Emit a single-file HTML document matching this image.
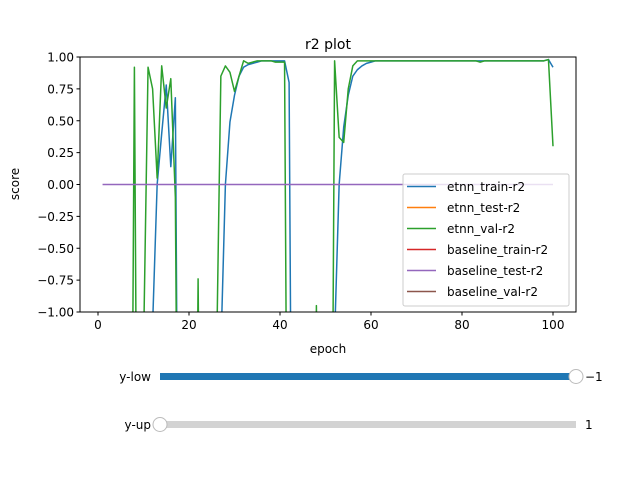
<!DOCTYPE html>
<html><head><meta charset="utf-8"><style>
html,body{margin:0;padding:0;background:#fff;overflow:hidden;width:640px;height:480px;}
svg{display:block;}
svg text{font-family:"DejaVu Sans","Liberation Sans",sans-serif;}
</style></head><body>
<svg id="c" width="640" height="480" viewBox="0 0 640 480"></svg>
<script>
const epochs=[];for(let i=1;i<=100;i++)epochs.push(i);
const trainR2=[-9,-9,-9,-9,-9,-9,-9,-9,-9,-9,-9,-1.1,0.0,0.4,0.78,0.14,0.68,-9,-9,-9,-9,-9,-9,-9,-9,-9,-1.3,0.0,0.49,0.7,0.85,0.92,0.94,0.95,0.96,0.97,0.97,0.97,0.97,0.97,0.97,0.8,-9,-9,-9,-9,-9,-9,-9,-9,-9,-1.2,0.0,0.45,0.7,0.85,0.9,0.93,0.95,0.96,0.97,0.97,0.97,0.97,0.97,0.97,0.97,0.97,0.97,0.97,0.97,0.97,0.97,0.97,0.97,0.97,0.97,0.97,0.97,0.97,0.97,0.97,0.97,0.97,0.97,0.97,0.97,0.97,0.97,0.97,0.97,0.97,0.97,0.97,0.97,0.97,0.97,0.97,0.98,0.92];
const valR2=[-9,-9,-9,-9,-9,-9,-9,0.92,-9,-1.3,0.92,0.75,0.05,0.93,0.6,0.83,-0.1,-9,-9,-9,-9,-0.74,-9,-9,-9,-1.5,0.85,0.93,0.88,0.73,0.85,0.97,0.95,0.96,0.97,0.97,0.97,0.97,0.96,0.96,0.96,-9,-9,-9,-9,-9,-9,-0.95,-9,-9,-9,0.97,0.37,0.33,0.75,0.93,0.97,0.97,0.97,0.97,0.97,0.97,0.97,0.97,0.97,0.97,0.97,0.97,0.97,0.97,0.97,0.97,0.97,0.97,0.97,0.97,0.97,0.97,0.97,0.97,0.97,0.97,0.97,0.96,0.97,0.97,0.97,0.97,0.97,0.97,0.97,0.97,0.97,0.97,0.97,0.97,0.97,0.97,0.98,0.3];
const baseTestR2=epochs.map(()=>0);
const xTicks=[0,20,40,60,80,100];
const yTicks=[-1,-0.75,-0.5,-0.25,0,0.25,0.5,0.75,1];
const yTickLabels=["−1.00","−0.75","−0.50","−0.25","0.00","0.25","0.50","0.75","1.00"];
const legendLabels=["etnn_train-r2","etnn_test-r2","etnn_val-r2","baseline_train-r2","baseline_test-r2","baseline_val-r2"];
const legendColors=["#1f77b4","#ff7f0e","#2ca02c","#d62728","#9467bd","#8c564b"];

const L=80,R=576,T=57,B=312;
const xs=v=>98+v*4.55;
const ys=v=>T+(1-v)/2*(B-T);
const svg=document.getElementById('c');const NS="http://www.w3.org/2000/svg";
function el(t,a,p){const e=document.createElementNS(NS,t);for(const k in a)e.setAttribute(k,a[k]);(p||svg).appendChild(e);return e;}
function txt(s,a,p){const e=el('text',a,p);e.textContent=s;return e;}
const defs=el('defs',{});const cp=el('clipPath',{id:'clip'},defs);el('rect',{x:L,y:T,width:R-L,height:B-T},cp);
const plot=el('g',{'clip-path':'url(#clip)'});


function line(data,color,name){const d=data.map((v,i)=>(i?'L':'M')+xs(epochs[i]).toFixed(2)+','+ys(Math.max(v,-5)).toFixed(2)).join('');
const p=el('path',{d:d,fill:'none',stroke:color,'stroke-width':1.5,'stroke-linejoin':'round'},plot);

}
line(trainR2,'#1f77b4','etnn-train-line');
line(valR2,'#2ca02c','etnn-val-line');
line(baseTestR2,'#9467bd','baseline-test-line');
const frame=el('rect',{x:L,y:T,width:R-L,height:B-T,fill:'none',stroke:'#000','stroke-width':1});


xTicks.forEach(v=>{const x=xs(v);el('line',{x1:x,x2:x,y1:B,y2:B+3.5,stroke:'#000'});
const t=txt(String(v),{x:x,y:B+17,'font-size':12,'text-anchor':'middle'});

});
yTicks.forEach((v,i)=>{const y=ys(v);el('line',{x1:L-3.5,x2:L,y1:y,y2:y,stroke:'#000'});
const t=txt(yTickLabels[i],{x:L-6,y:y+4.5,'font-size':12,'text-anchor':'end'});

});
txt('r2 plot',{x:328,y:49,'font-size':14,'text-anchor':'middle',});
txt('epoch',{x:328,y:353,'font-size':12,'text-anchor':'middle',});
txt('score',{x:19,y:184,'font-size':12,'text-anchor':'middle',transform:'rotate(-90 19 184)',});
const lg=el('g',{});
el('rect',{x:403,y:174,width:166,height:132,rx:2,fill:'#fff','fill-opacity':0.8,stroke:'#ccc'},lg);
legendLabels.forEach((s,i)=>{const y=186.5+i*21;const g=el('g',{},lg);


el('line',{x1:407,x2:436,y1:y,y2:y,stroke:legendColors[i],'stroke-width':1.5},g);
txt(s,{x:447,y:y+4.5,'font-size':12},g);});
const s1=el('g',{});
txt('y-low',{x:151,y:381,'font-size':12,'text-anchor':'end'},s1);
el('rect',{x:160,y:373,width:416,height:7,fill:'#1f77b4'},s1);
el('circle',{cx:576,cy:376.5,r:7,fill:'#fff',stroke:'#bbb'},s1);
txt('−1',{x:585,y:381,'font-size':12},s1);
const s2=el('g',{});
txt('y-up',{x:151,y:429,'font-size':12,'text-anchor':'end'},s2);
el('rect',{x:160,y:421,width:416,height:7,fill:'#d3d3d3'},s2);
el('circle',{cx:160,cy:424.5,r:7,fill:'#fff',stroke:'#bbb'},s2);
txt('1',{x:585,y:429,'font-size':12},s2);
</script>
</body></html>
